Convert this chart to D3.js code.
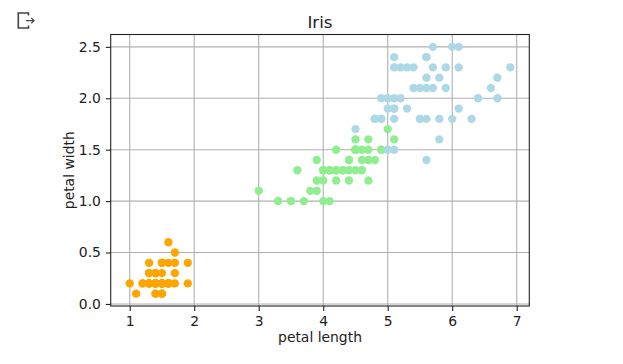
<!DOCTYPE html>
<html lang="en">
  <head>
    <meta charset="utf-8">
    <title>Iris</title>
    <style>
      body {
        margin: 0;
        background: #fff;
        font-family: "DejaVu Sans", sans-serif;
      }
    </style>
  </head>
  <body>
    <div class="graph"></div>

    <script src="https://d3js.org/d3.v7.min.js"></script>
    <script>
      // iris petal measurements, in dataset order
      var petalLength = [
        1.4,1.4,1.3,1.5,1.4,1.7,1.4,1.5,1.4,1.5,1.5,1.6,1.4,1.1,1.2,1.5,1.3,1.4,1.7,1.5,
        1.7,1.5,1.0,1.7,1.9,1.6,1.6,1.5,1.4,1.6,1.6,1.5,1.5,1.4,1.5,1.2,1.3,1.4,1.3,1.5,
        1.3,1.3,1.3,1.6,1.9,1.4,1.6,1.4,1.5,1.4,
        4.7,4.5,4.9,4.0,4.6,4.5,4.7,3.3,4.6,3.9,3.5,4.2,4.0,4.7,3.6,4.4,4.5,4.1,4.5,3.9,
        4.8,4.0,4.9,4.7,4.3,4.4,4.8,5.0,4.5,3.5,3.8,3.7,3.9,5.1,4.5,4.5,4.7,4.4,4.1,4.0,
        4.4,4.6,4.0,3.3,4.2,4.2,4.2,4.3,3.0,4.1,
        6.0,5.1,5.9,5.6,5.8,6.6,4.5,6.3,5.8,6.1,5.1,5.3,5.5,5.0,5.1,5.3,5.5,6.7,6.9,5.0,
        5.7,4.9,6.7,4.9,5.7,6.0,4.8,4.9,5.6,5.8,6.1,6.4,5.6,5.1,5.6,6.1,5.6,5.5,4.8,5.4,
        5.6,5.1,5.1,5.9,5.7,5.2,5.0,5.2,5.4,5.1
      ];
      var petalWidth = [
        0.2,0.2,0.2,0.2,0.2,0.4,0.3,0.2,0.2,0.1,0.2,0.2,0.1,0.1,0.2,0.4,0.4,0.3,0.3,0.3,
        0.2,0.4,0.2,0.5,0.2,0.2,0.4,0.2,0.2,0.2,0.2,0.4,0.1,0.2,0.2,0.2,0.2,0.1,0.2,0.2,
        0.3,0.3,0.2,0.6,0.4,0.3,0.2,0.2,0.2,0.2,
        1.4,1.5,1.5,1.3,1.5,1.3,1.6,1.0,1.3,1.4,1.0,1.5,1.0,1.4,1.3,1.4,1.5,1.0,1.5,1.1,
        1.8,1.3,1.5,1.2,1.3,1.4,1.4,1.7,1.5,1.0,1.1,1.0,1.2,1.6,1.5,1.6,1.5,1.3,1.3,1.3,
        1.2,1.4,1.2,1.0,1.3,1.2,1.3,1.3,1.1,1.3,
        2.5,1.9,2.1,1.8,2.2,2.1,1.7,1.8,1.8,2.5,2.0,1.9,2.1,2.0,2.4,2.3,1.8,2.2,2.3,1.5,
        2.3,2.0,2.0,1.8,2.1,1.8,1.8,1.8,2.1,1.6,1.9,2.0,2.2,1.5,1.4,2.3,2.4,1.8,1.8,2.1,
        2.4,2.3,1.9,2.3,2.5,2.3,1.9,2.0,2.3,1.8
      ];
      var species = [0, 1, 2];
      var speciesColors = ['orange', 'lightgreen', 'lightblue'];
      var xTicks = [1, 2, 3, 4, 5, 6, 7];
      var yTicks = [0.0, 0.5, 1.0, 1.5, 2.0, 2.5];

      var data = petalLength.map(function(len, i) {
        return { x: len, y: petalWidth[i], s: Math.floor(i / 50) };
      });

      var width = 623, height = 364;
      var margin = {top: 34.5, right: 93.7, bottom: 58, left: 110.7};
      var plotW = width - margin.left - margin.right,
          plotH = height - margin.top - margin.bottom;

      var x = d3.scaleLinear().domain([0.705, 7.195]).range([0, plotW]);
      var y = d3.scaleLinear().domain([-0.02, 2.62]).range([plotH, 0]);
      var color = d3.scaleOrdinal().domain(species).range(speciesColors);

      var svg = d3.select('.graph')
                  .append('svg')
                  .attr('width', width)
                  .attr('height', height);

      // output icon, top left
      svg.append('path')
         .attr('d', 'M28.5 15.5 V13 H18.3 V28 H28.5 V25.5')
         .attr('fill', 'none')
         .attr('stroke', '#444')
         .attr('stroke-width', 1.6);
      svg.append('path')
         .attr('d', 'M26 20.7 H34 M31.3 18 L34 20.7 L31.3 23.4')
         .attr('fill', 'none')
         .attr('stroke', '#444')
         .attr('stroke-width', 1.2);

      var g = svg.append('g')
                 .attr('transform', 'translate(' + margin.left + ',' + margin.top + ')');

      // grid
      g.selectAll('.vgrid')
       .data(xTicks)
       .enter()
       .append('line')
       .attr('x1', function(d) { return x(d); })
       .attr('x2', function(d) { return x(d); })
       .attr('y1', 0)
       .attr('y2', plotH)
       .attr('stroke', '#b0b0b0')
       .attr('stroke-width', 1.1);
      g.selectAll('.hgrid')
       .data(yTicks)
       .enter()
       .append('line')
       .attr('y1', function(d) { return y(d); })
       .attr('y2', function(d) { return y(d); })
       .attr('x1', 0)
       .attr('x2', plotW)
       .attr('stroke', '#b0b0b0')
       .attr('stroke-width', 1.1);

      g.selectAll('circle')
       .data(data)
       .enter()
       .append('circle')
       .attr('cx', function(d) { return x(d.x); })
       .attr('cy', function(d) { return y(d.y); })
       .attr('r', 4.17)
       .attr('fill', function(d) { return color(d.s); });

      // frame
      g.append('rect')
       .attr('width', plotW)
       .attr('height', plotH)
       .attr('fill', 'none')
       .attr('stroke', '#222')
       .attr('stroke-width', 1.1);

      var xAxis = g.append('g')
                   .attr('transform', 'translate(0,' + plotH + ')')
                   .call(d3.axisBottom(x).tickValues(xTicks).tickFormat(d3.format('d'))
                           .tickSize(4.9).tickPadding(4.9));
      var yAxis = g.append('g')
                   .call(d3.axisLeft(y).tickValues(yTicks).tickFormat(d3.format('.1f'))
                           .tickSize(4.9).tickPadding(4.9));
      [xAxis, yAxis].forEach(function(ax) {
        ax.select('.domain').remove();
        ax.selectAll('line').attr('stroke', '#222').attr('stroke-width', 1.1);
        ax.selectAll('text')
          .attr('fill', '#222')
          .style('font-family', '"DejaVu Sans", sans-serif')
          .style('font-size', '13.9px');
      });

      svg.append('text')
         .attr('x', margin.left + plotW / 2)
         .attr('y', 28)
         .attr('text-anchor', 'middle')
         .attr('fill', '#222')
         .style('font-size', '16.7px')
         .text('Iris');

      svg.append('text')
         .attr('x', margin.left + plotW / 2)
         .attr('y', 342)
         .attr('text-anchor', 'middle')
         .attr('fill', '#222')
         .style('font-size', '13.9px')
         .text('petal length');

      svg.append('text')
         .attr('transform', 'translate(73.5,' + (margin.top + plotH / 2) + ') rotate(-90)')
         .attr('text-anchor', 'middle')
         .attr('fill', '#222')
         .style('font-size', '13.9px')
         .text('petal width');
    </script>
  </body>
</html>
